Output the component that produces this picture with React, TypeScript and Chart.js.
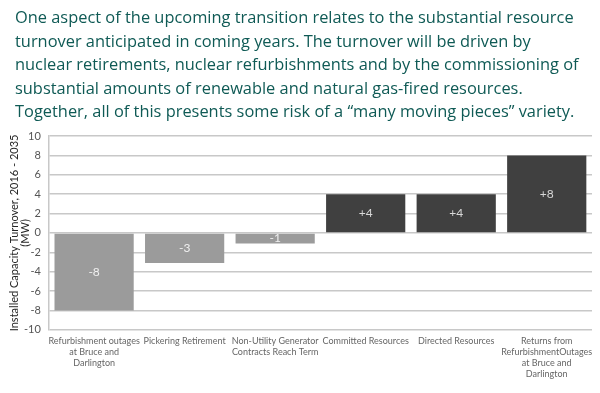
import React, { useEffect, useRef } from "react";
import { Chart, registerables } from "chart.js";

Chart.register(...registerables);

const titleLines = [
  "One aspect of the upcoming transition relates to the substantial resource",
  "turnover anticipated in coming years. The turnover will be driven by",
  "nuclear retirements, nuclear refurbishments and by the commissioning of",
  "substantial amounts of renewable and natural gas-fired resources.",
  "Together, all of this presents some risk of a \u201cmany moving pieces\u201d variety.",
];

const categories: string[][] = [
  ["Refurbishment outages", "at Bruce and", "Darlington"],
  ["Pickering Retirement"],
  ["Non-Utility Generator", "Contracts Reach Term"],
  ["Committed Resources"],
  ["Directed Resources"],
  ["Returns from", "RefurbishmentOutages", "at Bruce and", "Darlington"],
];

const values = [-8, -3.1, -1.1, 4, 4, 8];
const valueLabels = ["-8", "-3", "-1", "+4", "+4", "+8"];
const yTitle = ["Installed Capacity Turnover, 2016 - 2035", "(MW)"];

const FONT = "Lato, 'DejaVu Sans', sans-serif";

const labelPlugin = {
  id: "barLabels",
  afterDatasetsDraw(chart: any) {
    const ctx = chart.ctx;
    const meta = chart.getDatasetMeta(0);
    ctx.save();
    ctx.font = `12px ${FONT}`;
    ctx.textAlign = "center";
    ctx.textBaseline = "middle";
    meta.data.forEach((bar: any, i: number) => {
      const y = (bar.y + bar.base) / 2;
      ctx.fillStyle = values[i] < 0 ? "#f0f0f0" : "#d8d8d8";
      ctx.fillText(valueLabels[i], bar.x, y);
    });
    ctx.restore();
  },
};

const yTitlePlugin = {
  id: "yTitle",
  afterDraw(chart: any) {
    const ctx = chart.ctx;
    const area = chart.chartArea;
    const cy = (area.top + area.bottom) / 2;
    ctx.save();
    ctx.font = `11px ${FONT}`;
    ctx.fillStyle = "#262626";
    ctx.textAlign = "center";
    ctx.textBaseline = "middle";
    const xs = [area.left - 34, area.left - 23];
    yTitle.forEach((t, i) => {
      ctx.save();
      ctx.translate(xs[i], cy);
      ctx.rotate(-Math.PI / 2);
      ctx.fillText(t, 0, 0);
      ctx.restore();
    });
    ctx.restore();
  },
};

export default function App() {
  const ref = useRef<HTMLCanvasElement>(null);
  useEffect(() => {
    if (!ref.current) return;
    const chart = new Chart(ref.current, {
      type: "bar",
      data: {
        labels: categories,
        datasets: [
          {
            data: values,
            backgroundColor: values.map((v) => (v < 0 ? "#9b9b9b" : "#404040")),
            barPercentage: 0.875,
            categoryPercentage: 1,
          },
        ],
      },
      options: {
        animation: false,
        responsive: false,
        maintainAspectRatio: false,
        layout: { padding: { top: 136, left: 16, right: 8, bottom: 8 } },
        plugins: { legend: { display: false }, tooltip: { enabled: false } },
        scales: {
          x: {
            grid: { display: false, drawTicks: false },
            border: { display: false },
            ticks: {
              color: "#666",
              font: { family: FONT, size: 9, lineHeight: 1.2 },
              maxRotation: 0,
              autoSkip: false,
              padding: 6,
            },
          },
          y: {
            min: -10,
            max: 10,
            ticks: {
              stepSize: 2,
              color: "#555",
              font: { family: FONT, size: 11 },
              padding: 8,
            },
            grid: { color: "#c8c8c8", lineWidth: 1.5, drawTicks: false },
            border: { display: true, color: "#c8c8c8", width: 1.5 },
          },
        },
      },
      plugins: [labelPlugin, yTitlePlugin],
    });
    return () => chart.destroy();
  }, []);

  return (
    <div style={{ position: "fixed", left: 0, top: 0, width: 600, height: 393, background: "#fff" }}>
      <canvas ref={ref} width={600} height={393} style={{ position: "absolute", left: 0, top: 0 }} />
      <div
        style={{
          position: "absolute",
          left: 15,
          top: 5,
          fontFamily: "'Open Sans', Lato, sans-serif",
          fontSize: 16.4,
          lineHeight: "23.5px",
          color: "#0f5a55",
          whiteSpace: "nowrap",
        }}
      >
        {titleLines.map((l, i) => (
          <div key={i}>{l}</div>
        ))}
      </div>
    </div>
  );
}
